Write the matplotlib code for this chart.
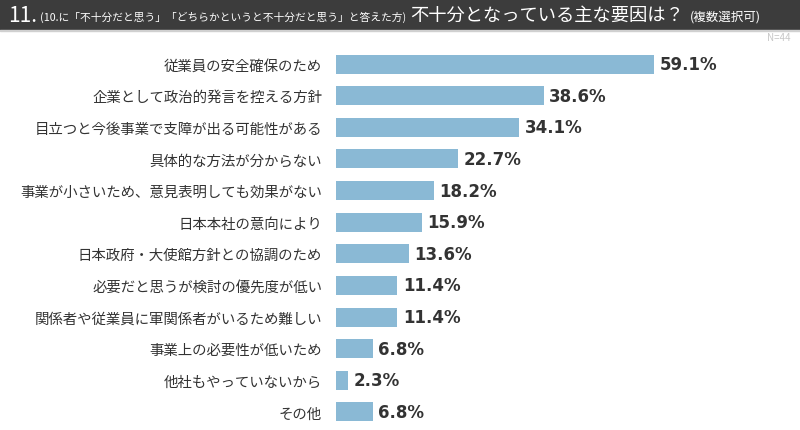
import matplotlib.pyplot as plt
from matplotlib.patches import Rectangle

plt.rcParams['font.family'] = ['Noto Sans CJK JP', 'DejaVu Sans']

# Data
categories = [
    "従業員の安全確保のため",
    "企業として政治的発言を控える方針",
    "目立つと今後事業で支障が出る可能性がある",
    "具体的な方法が分からない",
    "事業が小さいため、意見表明しても効果がない",
    "日本本社の意向により",
    "日本政府・大使館方針との協調のため",
    "必要だと思うが検討の優先度が低い",
    "関係者や従業員に軍関係者がいるため難しい",
    "事業上の必要性が低いため",
    "他社もやっていないから",
    "その他",
]
values = [59.1, 38.6, 34.1, 22.7, 18.2, 15.9, 13.6, 11.4, 11.4, 6.8, 2.3, 6.8]

W, H = 800, 431
fig = plt.figure(figsize=(W / 100, H / 100), dpi=100)
renderer = fig.canvas.get_renderer()


def fit_text(x0, x1, yy, s, size, **kw):
    # put text between x0 and x1 (pixels), shrinking the font to fit
    t = fig.text(x0 / W, yy, s, fontsize=size, va="center", **kw)
    w = t.get_window_extent(renderer).width
    if w > (x1 - x0):
        t.set_fontsize(size * (x1 - x0) / w)
    return t


# Header bar
fig.patches.append(Rectangle((0, 1 - 30 / H), 1, 30 / H, transform=fig.transFigure,
                             color="#3c3c3c", zorder=0))
fig.patches.append(Rectangle((0, 1 - 32 / H), 1, 1.5 / H, transform=fig.transFigure,
                             color="#d0d0d0", zorder=0))
ty = 1 - 16 / H
fig.text(8 / W, ty, "11.", color="white", fontsize=15, va="center")
fit_text(40, 405, ty - 1 / H, "(10.に「不十分だと思う」「どちらかというと不十分だと思う」と答えた方)",
         9, color="white")
fit_text(410, 684, ty, "不十分となっている主な要因は？", 13.8, color="white")
fit_text(690, 772, ty - 1 / H, "(複数選択可)", 9, color="white")
fig.text(790 / W, 1 - 38 / H, "N=44", color="#c8c8c8", fontsize=7, ha="right", va="center")

# Bars
ax = fig.add_axes([336 / W, 1 - 428.8 / H, 454 / W, 379.6 / H])
y = list(range(len(categories)))
ax.barh(y, values, height=0.6, color="#8ab9d5")
ax.set_xlim(0, 454 / 5.38)
ax.set_ylim(len(categories) - 0.5, -0.5)
for yi, v in zip(y, values):
    ax.text(v + 1.0, yi, f"{v}%", va="center", ha="left", fontsize=12,
            fontweight="bold", color="#333333", family=["DejaVu Sans"])
ax.set_yticks(y)
ax.set_yticklabels(categories, fontsize=10.4, color="#333333")
ax.tick_params(axis="y", length=0, pad=10)
ax.set_xticks([])
for s in ax.spines.values():
    s.set_visible(False)

fig.savefig("out.png", dpi=100)
